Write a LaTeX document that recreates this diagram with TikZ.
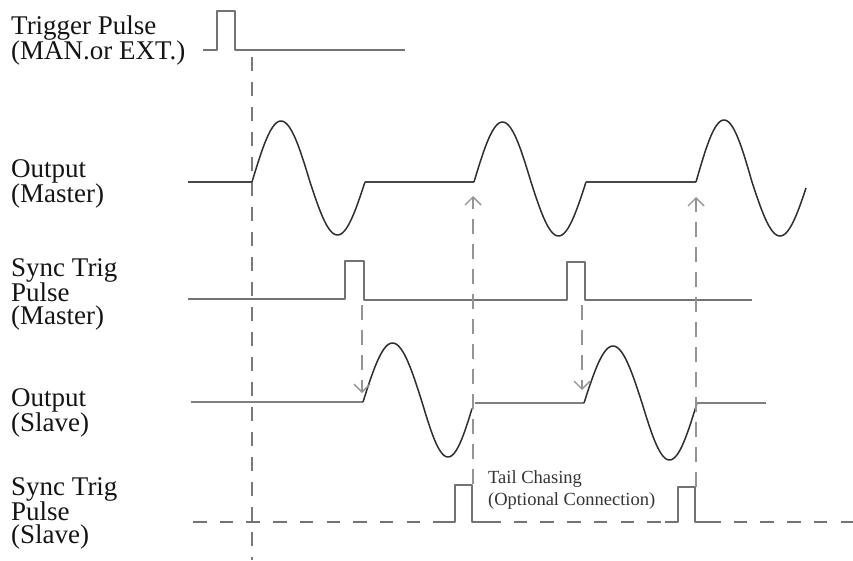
\documentclass[tikz,border=0pt]{standalone}
\usepackage{fontspec}
\setmainfont{Liberation Serif}
\usetikzlibrary{arrows.meta}
\begin{document}
\begin{tikzpicture}[x=1pt,y=-1pt,
  lbl/.style={anchor=north west, inner sep=0pt, align=left, text=black!92,
    font=\fontsize{27}{22.5}\selectfont},
  note/.style={anchor=north west, inner sep=0pt, align=left, text=black!80,
    font=\fontsize{18.5}{22.5}\selectfont},
  pulse/.style={draw=black!55, line width=2.3pt, line join=round},
  wave/.style={draw=black!82, line width=1.5pt},
  flatm/.style={draw=black!72, line width=1.6pt},
  flats/.style={draw=black!50, line width=1.2pt},
  trigline/.style={draw=black!52, line width=2.4pt, dash pattern=on 14pt off 11pt},
  slbase/.style={draw=black!55, line width=2.2pt, dash pattern=on 13.5pt off 13.2pt},
  arr/.style={draw=black!42, line width=1.4pt, dash pattern=on 15pt off 10pt,
    -{Straight Barb[length=8pt,width=16pt,line width=1.4pt]}},
]
\useasboundingbox (0,0) rectangle (853,560);

% labels
\node[lbl, font=\fontsize{27}{25}\selectfont] (trig) at (11,16) {Trigger Pulse\\(MAN.or EXT.)};
\node[lbl] (outm) at (11,159) {Output\\(Master)};
\node[lbl] (syncm) at (11,258) {Sync Trig\\Pulse\\(Master)};
\node[lbl] (outs) at (11,388) {Output\\(Slave)};
\node[lbl] (syncs) at (11,477) {Sync Trig\\Pulse\\(Slave)};
\node[note] (tail) at (488,470) {Tail Chasing\\(Optional Connection)};

% trigger pulse
\draw[pulse] (203,50) -- (217,50) -- (217,11) -- (235,11) -- (235,50) -- (405,50);
% trigger dashed vertical
\coordinate (tv1) at (252,57);
\coordinate (tv2) at (252,560);
\draw[trigline] (tv1) -- (tv2);

% output master
\draw[flatm] (188,182) -- (252,182);
\draw[wave] plot[domain=252:310,samples=40] (\x,{182-61*sin(180*(\x-252)/58)})
  -- plot[domain=310:365,samples=40] (\x,{182+53*sin(180*(\x-310)/55)});
\draw[flatm] (365,182) -- (474,182);
\draw[wave] plot[domain=474:531,samples=40] (\x,{182-60*sin(180*(\x-474)/57)})
  -- plot[domain=531:586,samples=40] (\x,{182+54*sin(180*(\x-531)/55)});
\draw[flatm] (586,182) -- (696,182);
\draw[wave] plot[domain=696:752,samples=40] (\x,{182-62*sin(180*(\x-696)/56)})
  -- plot[domain=752:806,samples=40] (\x,{182+54*sin(180*(\x-752)/56)});

% sync trig pulse master
\draw[pulse] (188,299) -- (345,299) -- (345,261) -- (364,261) -- (364,300)
  -- (567,300) -- (567,262) -- (585,262) -- (585,300) -- (752,300);

% output slave
\draw[flats] (191,402) -- (363,402);
\draw[wave] plot[domain=363:422,samples=40] (\x,{402-59*sin(180*(\x-363)/59)})
  -- plot[domain=422:472,samples=40] (\x,{402+55*sin(180*(\x-422)/52)});
\draw[flats] (475,403) -- (584,403);
\draw[wave] plot[domain=584:642,samples=40] (\x,{403-57*sin(180*(\x-584)/58)})
  -- plot[domain=642:697,samples=40] (\x,{403+57*sin(180*(\x-642)/55)});
\draw[flats] (697,403) -- (766,403);

% sync trig pulse slave
\draw[slbase] (193,522) -- (438,522);
\draw[pulse] (438,522) -- (455,522) -- (455,485) -- (472,485) -- (472,522) -- (487,522);
\draw[slbase] (487,522) -- (665,522);
\draw[pulse] (665,522) -- (678,522) -- (678,487) -- (695,487) -- (695,522) -- (707,522);
\draw[slbase] (707,522) -- (853,522);

% arrows
\coordinate (d1a) at (362,305); \coordinate (d1b) at (362,393);
\coordinate (d2a) at (582,305); \coordinate (d2b) at (582,390);
\coordinate (u1a) at (473,484); \coordinate (u1b) at (473,196);
\coordinate (u2a) at (696,487); \coordinate (u2b) at (696,197);
\draw[arr] (d1a) -- (d1b);
\draw[arr] (d2a) -- (d2b);
\draw[arr] (u1a) -- (u1b);
\draw[arr] (u2a) -- (u2b);
\end{tikzpicture}
\end{document}
